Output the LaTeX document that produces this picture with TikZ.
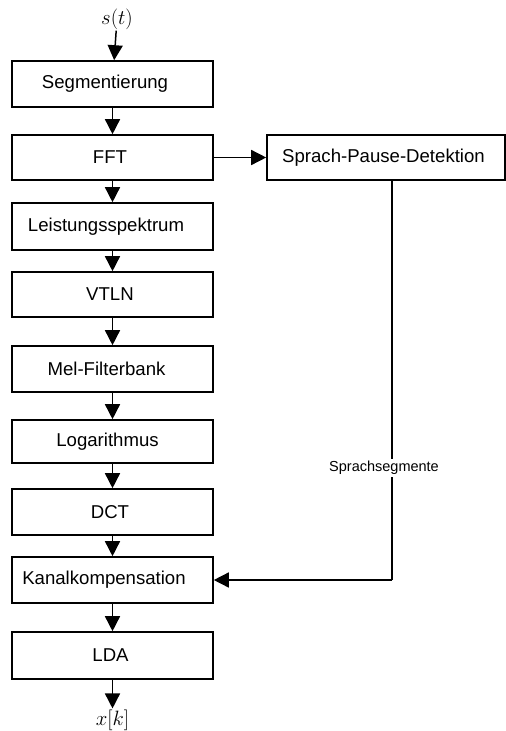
\documentclass[tikz,border=0pt]{standalone}
\usepackage{fontspec}
\setmainfont{Liberation Sans}
\usetikzlibrary{arrows.meta}
\begin{document}
\begin{tikzpicture}[x=1pt,y=-1pt,
  blk/.style={draw,line width=1.6pt,minimum width=201pt,minimum height=46pt,inner sep=1pt,
    font=\fontsize{18.6}{20}\selectfont},
  arr/.style={line width=1.5pt,-{Triangle[width=15pt,length=15pt]}},
  ln/.style={line width=1.5pt},
  sig/.style={inner sep=1pt,font=\fontsize{21}{23}\selectfont}]
\useasboundingbox (0,0) rectangle (506,731);
\node[sig] (st) at (117,19) {$s(t)$};
\node[blk] (seg) at (112.5,84) {Segmentierung\kern15pt};
\node[blk,minimum height=45pt] (fft) at (112.5,157.5) {FFT\kern5pt};
\node[blk,minimum height=47pt] (lei) at (112.5,226.5) {Leistungsspektrum\kern13pt};
\node[blk,minimum height=45pt] (vtln) at (112.5,294.5) {VTLN\kern5pt};
\node[blk] (mel) at (112.5,369) {Mel-Filterbank\kern12pt};
\node[blk,minimum height=43pt] (log) at (112.5,441.5) {Logarithmus\kern10pt};
\node[blk] (dct) at (112.5,512) {DCT\kern5pt};
\node[blk] (kan) at (112.5,580) {Kanalkompensation\kern17pt};
\node[blk,minimum height=47pt] (lda) at (112.5,655.5) {LDA\kern4pt};
\node[sig] (xk) at (112.5,720) {$x[k]$};
\node[blk,minimum width=238pt,minimum height=45pt] (spd) at (386,157.5) {Sprach-Pause-Detektion\kern5pt};
\coordinate (corner) at (392,580);
\coordinate (spdb) at (392,180);
\draw[arr] (st) -- (seg);
\draw[arr] (seg) -- (fft);
\draw[arr] (fft) -- (lei);
\draw[arr] (lei) -- (vtln);
\draw[arr] (vtln) -- (mel);
\draw[arr] (mel) -- (log);
\draw[arr] (log) -- (dct);
\draw[arr] (dct) -- (kan);
\draw[arr] (kan) -- (lda);
\draw[arr] (lda) -- (xk);
\draw[arr] (fft) -- (spd);
\draw[ln] (spdb) -- (corner);
\draw[arr] (corner) -- (kan);
\node[fill=white,inner sep=2pt,font=\fontsize{14.5}{16}\selectfont] (lab) at (384,468) {Sprachsegmente};
\end{tikzpicture}
\end{document}
